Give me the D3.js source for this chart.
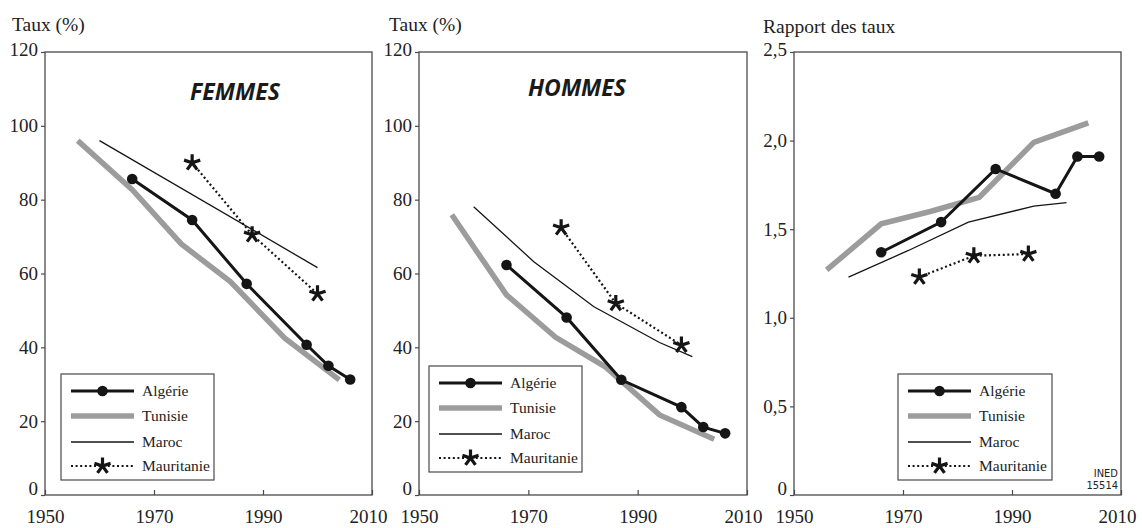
<!DOCTYPE html>
<html>
<head>
<meta charset="utf-8">
<script src="https://cdn.jsdelivr.net/npm/d3@7"></script>
<style>
  html, body { margin: 0; padding: 0; background: #fff; }
  svg { display: block; }
  .serif { font-family: "Liberation Serif", "Times New Roman", serif; }
</style>
</head>
<body>
<svg id="chart" width="1142" height="528"></svg>
<script>
// ---------- DATA ----------
const countries = ["Algérie", "Tunisie", "Maroc", "Mauritanie"];
const xTickYears = [1950, 1970, 1990, 2010];
const pctTicks = [0, 20, 40, 60, 80, 100, 120];
const ratioTicks = [0, 0.5, 1.0, 1.5, 2.0, 2.5];
const panelTitles = ["Taux (%)", "Taux (%)", "Rapport des taux"];
const panelLabels = ["FEMMES", "HOMMES", ""];

// Femmes
const femAlgYears = [1966, 1977, 1987, 1998, 2002, 2006];
const femAlgVals  = [85.6, 74.5, 57.2, 40.7, 35.0, 31.3];
const femTunYears = [1956, 1966, 1975, 1984, 1994, 2004];
const femTunVals  = [96.0, 82.7, 68.0, 57.8, 42.5, 31.2];
const femMarYears = [1960, 2000];
const femMarVals  = [96.0, 61.6];
const femMauYears = [1977, 1988, 2000];
const femMauVals  = [90.0, 70.5, 54.5];

// Hommes
const homAlgYears = [1966, 1977, 1987, 1998, 2002, 2006];
const homAlgVals  = [62.3, 48.1, 31.2, 23.8, 18.4, 16.7];
const homTunYears = [1956, 1966, 1975, 1984, 1994, 2004];
const homTunVals  = [75.9, 54.2, 42.7, 34.8, 21.7, 15.1];
const homMarYears = [1960, 1971, 1982, 1994, 2000];
const homMarVals  = [78.1, 63.2, 51.0, 41.3, 37.5];
const homMauYears = [1976, 1986, 1998];
const homMauVals  = [72.4, 51.9, 40.6];

// Rapport des taux
const ratAlgYears = [1966, 1977, 1987, 1998, 2002, 2006];
const ratAlgVals  = [1.37, 1.54, 1.84, 1.70, 1.91, 1.91];
const ratTunYears = [1956, 1966, 1975, 1984, 1994, 2004];
const ratTunVals  = [1.27, 1.53, 1.60, 1.68, 1.99, 2.10];
const ratMarYears = [1960, 1971, 1982, 1994, 2000];
const ratMarVals  = [1.23, 1.38, 1.54, 1.63, 1.65];
const ratMauYears = [1973, 1983, 1993];
const ratMauVals  = [1.23, 1.35, 1.36];

// ---------- BUILD ----------
const zip = (ys, vs) => ys.map((y, i) => ({ year: y, value: vs[i] }));
const panelSeries = [
  [zip(femAlgYears, femAlgVals), zip(femTunYears, femTunVals), zip(femMarYears, femMarVals), zip(femMauYears, femMauVals)],
  [zip(homAlgYears, homAlgVals), zip(homTunYears, homTunVals), zip(homMarYears, homMarVals), zip(homMauYears, homMauVals)],
  [zip(ratAlgYears, ratAlgVals), zip(ratTunYears, ratTunVals), zip(ratMarYears, ratMarVals), zip(ratMauYears, ratMauVals)]
];

const layout = [
  { left: 45,  right: 372,  top: 52, bottom: 495, yTicks: pctTicks,   titleX: 12,  titleY: 31, labelX: 235, labelY: 100, leg: { x: 61,  y: 374, w: 153, h: 106 } },
  { left: 419, right: 747,  top: 52, bottom: 495, yTicks: pctTicks,   titleX: 389, titleY: 31, labelX: 577, labelY: 96,  leg: { x: 429, y: 366, w: 153, h: 106 } },
  { left: 794, right: 1121, top: 52, bottom: 495, yTicks: ratioTicks, titleX: 763, titleY: 33, labelX: 0,   labelY: 0,   leg: { x: 898, y: 374, w: 154, h: 106 } }
];

const styles = [
  { stroke: "#151515", width: 3,   dash: null,      marker: "circle" },
  { stroke: "#9c9c9c", width: 5.5, dash: null,      marker: null },
  { stroke: "#151515", width: 1.3, dash: null,      marker: null },
  { stroke: "#151515", width: 2.2, dash: "2,2.6",   marker: "star" }
];

const svg = d3.select("#chart");
const serif = "Liberation Serif, Times New Roman, serif";

function starPath(r) {
  let p = "";
  for (let k = 0; k < 5; k++) {
    const a = (-90 + k * 72) * Math.PI / 180;
    p += `M0,0L${(r * Math.cos(a)).toFixed(2)},${(r * Math.sin(a)).toFixed(2)}`;
  }
  return p;
}

function drawMarker(g, type, x, y, color) {
  if (type === "circle") {
    g.append("circle").attr("cx", x).attr("cy", y).attr("r", 5.3).attr("fill", color);
  } else if (type === "star") {
    g.append("path").attr("d", starPath(8.5)).attr("transform", `translate(${x},${y})`)
      .attr("stroke", color).attr("stroke-width", 3.2).attr("stroke-linecap", "butt").attr("fill", "none");
  }
}

const ratioFmt = d => d === 0 ? "0" : d3.format(".1f")(d).replace(".", ",");

layout.forEach((L, pi) => {
  const g = svg.append("g");
  const x = d3.scaleLinear().domain([1950, 2010]).range([L.left, L.right]);
  const yMax = L.yTicks[L.yTicks.length - 1];
  const y = d3.scaleLinear().domain([0, yMax]).range([L.bottom, L.top]);

  // frame
  g.append("rect").attr("x", L.left).attr("y", L.top)
    .attr("width", L.right - L.left).attr("height", L.bottom - L.top)
    .attr("fill", "none").attr("stroke", "#4a4a4a").attr("stroke-width", 1.3);

  // y axis
  const yAxis = d3.axisLeft(y).tickValues(L.yTicks).tickSize(4).tickPadding(3)
    .tickFormat(pi === 2 ? ratioFmt : d3.format("d"));
  const ya = g.append("g").attr("transform", `translate(${L.left},0)`).call(yAxis)
    .attr("font-family", null).attr("font-size", null).attr("class", "serif");
  ya.select(".domain").remove();
  ya.selectAll(".tick line").attr("stroke", "#4a4a4a").attr("stroke-width", 1.2);
  ya.selectAll(".tick text").style("font-family", serif).style("font-size", "19px").attr("fill", "#222")
    .attr("dy", d => d === 0 ? "-0.05em" : (d === yMax ? "0.2em" : "0.32em"));

  // x axis (ticks inward)
  const xAxis = d3.axisBottom(x).tickValues(xTickYears).tickSize(-5).tickPadding(15).tickFormat(d3.format("d"));
  const xa = g.append("g").attr("transform", `translate(0,${L.bottom})`).call(xAxis)
    .attr("font-family", null).attr("font-size", null).attr("class", "serif");
  xa.select(".domain").remove();
  xa.selectAll(".tick line").attr("stroke", "#4a4a4a").attr("stroke-width", 1.2);
  xa.selectAll(".tick text").style("font-family", serif).style("font-size", "19px").attr("fill", "#222")
    .attr("dx", d => d === 2010 ? -4 : 0);

  // title
  svg.append("text").attr("x", L.titleX).attr("y", L.titleY).text(panelTitles[pi])
    .style("font-family", serif).style("font-size", "19.5px").attr("fill", "#222");

  if (panelLabels[pi]) {
    svg.append("text").attr("x", L.labelX).attr("y", L.labelY).attr("text-anchor", "middle")
      .text(panelLabels[pi]).style("font-family", "Open Sans, sans-serif")
      .style("font-weight", "bold").style("font-style", "italic").style("font-size", "23px").attr("fill", "#1a1a1a");
  }

  // series (draw Tunisie first, then Maroc, Mauritanie, Algérie on top)
  const line = d3.line().x(d => x(d.year)).y(d => y(d.value));
  const order = [1, 2, 3, 0];
  order.forEach(si => {
    const s = styles[si];
    const data = panelSeries[pi][si];
    g.append("path").datum(data).attr("d", line).attr("fill", "none")
      .attr("stroke", s.stroke).attr("stroke-width", s.width)
      .attr("stroke-dasharray", s.dash).attr("stroke-linejoin", "miter");
    if (s.marker) data.forEach(d => drawMarker(g, s.marker, x(d.year), y(d.value), s.stroke));
  });

  // legend
  const lg = svg.append("g").attr("transform", `translate(${L.leg.x},${L.leg.y})`);
  lg.append("rect").attr("width", L.leg.w).attr("height", L.leg.h)
    .attr("fill", "#fff").attr("stroke", "#4a4a4a").attr("stroke-width", 1.2);
  const rowY = [17, 42, 68, 92];
  countries.forEach((c, si) => {
    const s = styles[si];
    const yy = rowY[si];
    lg.append("line").attr("x1", 10).attr("x2", 73).attr("y1", yy).attr("y2", yy)
      .attr("stroke", s.stroke).attr("stroke-width", s.width).attr("stroke-dasharray", s.dash);
    if (s.marker) drawMarker(lg, s.marker, 41.5, yy, s.stroke);
    lg.append("text").attr("x", 81).attr("y", yy).attr("dy", "0.33em").text(c)
      .style("font-family", serif).style("font-size", "15.5px").attr("fill", "#222");
  });
});

// source tag
const tag = svg.append("g").style("font-family", "DejaVu Sans Condensed, DejaVu Sans, sans-serif")
  .style("font-size", "11px").attr("fill", "#222").attr("text-anchor", "end");
tag.append("text").attr("x", 1118).attr("y", 477).text("INED");
tag.append("text").attr("x", 1118).attr("y", 489).text("15514");
</script>
</body>
</html>
